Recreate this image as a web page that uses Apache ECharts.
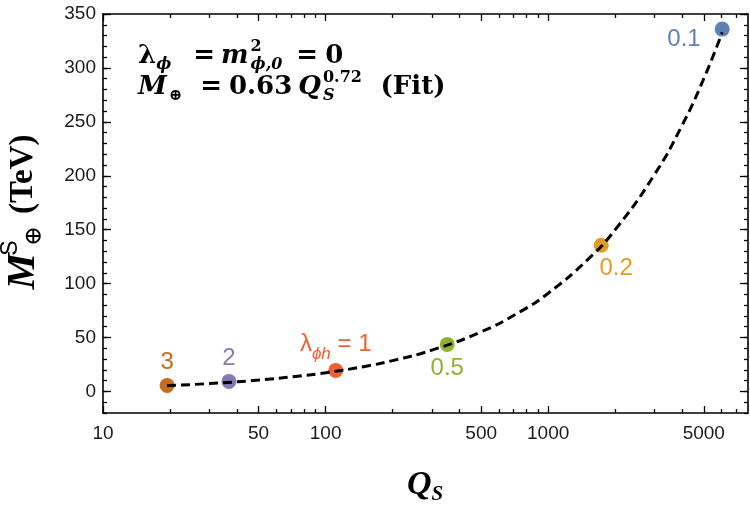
<!DOCTYPE html>
<html>
<head>
<meta charset="utf-8">
<script src="https://cdn.jsdelivr.net/npm/echarts@6/dist/echarts.min.js"></script>
<style>
  html, body { margin: 0; padding: 0; background: #fff; }
  #chart { width: 750px; height: 507px; }
</style>
</head>
<body>
<div id="chart"></div>
<script>
// coupling values lambda_phi_h and the points
var couplings = ['3', '2', '1', '0.5', '0.2', '0.1'];
var pointQ = [19.4, 36.8, 111, 352, 1730, 6050];
var pointM = [5.6, 9.3, 19.5, 43.6, 135.6, 336];

// dashed fit curve
var fitQ = [19.4, 30, 50, 75, 100, 150, 200, 300, 500, 750, 1000, 1500, 2000, 3000, 4000, 5000, 6050];
var fitM = [5.3, 7.3, 10.5, 14.1, 17.3, 23.2, 28.6, 38.3, 55.3, 74.0, 91.1, 122, 150, 201, 247, 290, 333];

// axis ticks
var xLabelValues = [10, 50, 100, 500, 1000, 5000];
var xMajorTicks = [10, 50, 100, 500, 1000, 5000];
var xMinorTicks = [20, 30, 40, 60, 70, 80, 90, 200, 300, 400, 600, 700, 800, 900, 2000, 3000, 4000, 6000, 7000];
var yLabelValues = [0, 50, 100, 150, 200, 250, 300, 350];

var colors = ['#C56E1A', '#8778B3', '#EB6235', '#8FB032', '#E19C24', '#5E81B5'];

var chart = echarts.init(document.getElementById('chart'));

var X_MIN = 10, X_MAX = 7900, Y_MIN = -20, Y_MAX = 350;
var lineStyle = { color: '#000', width: 1.6 };
var sans = 'Liberation Sans';
var serif = 'Liberation Serif';
var dserif = 'DejaVu Serif';

function xAxisDef(pos, ticks, len, showLabel, showLine) {
    return {
        type: 'log', position: pos, min: X_MIN, max: X_MAX, logBase: 10,
        axisLine: { show: showLine, onZero: false, lineStyle: lineStyle },
        axisTick: { show: true, inside: true, length: len, customValues: ticks, lineStyle: { color: '#000', width: 1.3 } },
        axisLabel: { show: showLabel, customValues: xLabelValues, color: '#1a1a1a', fontSize: 19, fontFamily: sans, margin: 11,
            formatter: function (v) { return String(Math.round(v)); } },
        splitLine: { show: false }, minorTick: { show: false }
    };
}
function yAxisDef(pos, showLabel, showLine) {
    return {
        type: 'value', position: pos, min: Y_MIN, max: Y_MAX, interval: 10,
        axisLine: { show: showLine, onZero: false, lineStyle: lineStyle },
        axisTick: { show: true, inside: true, length: 4, lineStyle: { color: '#000', width: 1.3 } },
        axisLabel: { show: showLabel, color: '#1a1a1a', fontSize: 19, fontFamily: sans, margin: 7,
            formatter: function (v) { return yLabelValues.indexOf(v) >= 0 ? String(v) : ''; } },
        splitLine: { show: false }
    };
}
function yMajorDef(pos) {
    return {
        type: 'value', position: pos, min: Y_MIN, max: Y_MAX,
        axisLine: { show: false },
        axisTick: { show: true, inside: true, length: 8, customValues: yLabelValues, lineStyle: { color: '#000', width: 1.3 } },
        axisLabel: { show: false },
        splitLine: { show: false }
    };
}

// one scatter series per coupling, so each gets its own colour and label spot
var labelPlace = [
    { position: 'top', distance: 4 },
    { position: 'top', distance: 4 },
    { position: 'top', distance: 4 },
    { position: 'bottom', distance: 4 },
    { position: 'bottom', distance: 4, offset: [15, 0] },
    { position: 'left', distance: 14, offset: [0, 10] }
];
var pointSeries = couplings.map(function (c, i) {
    var text = c === '1' ? '{l|λ}{s|ϕh}{l| = 1}' : c;
    return {
        type: 'scatter', name: c, z: 3,
        data: [[pointQ[i], pointM[i]]],
        symbolSize: 15,
        itemStyle: { color: colors[i], opacity: 1 },
        label: Object.assign({
            show: true, color: colors[i], fontSize: 24, fontFamily: sans,
            formatter: function () { return text; },
            rich: {
                l: { color: colors[i], fontSize: 24, fontFamily: sans, lineHeight: 30, verticalAlign: 'middle' },
                s: { color: colors[i], fontSize: 17, fontFamily: sans, fontStyle: 'italic', lineHeight: 30, verticalAlign: 'bottom', padding: [0, 0, -4, 0] }
            }
        }, labelPlace[i])
    };
});

// rich styles for the bold math note in the corner
function mathRich() {
    return {
        b: { fontFamily: dserif, fontWeight: 'bold', fontSize: 26, lineHeight: 34, verticalAlign: 'middle', fill: '#000' },
        bi: { fontFamily: dserif, fontWeight: 'bold', fontStyle: 'italic', fontSize: 26, lineHeight: 34, verticalAlign: 'middle', fill: '#000' },
        eq1: { fontFamily: dserif, fontWeight: 'bold', fontSize: 26, lineHeight: 34, verticalAlign: 'middle', fill: '#000', padding: [0, 6, 0, 22] },
        eq2: { fontFamily: dserif, fontWeight: 'bold', fontSize: 26, lineHeight: 34, verticalAlign: 'middle', fill: '#000', padding: [0, 7, 0, 14] },
        eq3: { fontFamily: dserif, fontWeight: 'bold', fontSize: 26, lineHeight: 34, verticalAlign: 'middle', fill: '#000', padding: [0, 7, 0, 18] },
        num: { fontFamily: dserif, fontWeight: 'bold', fontSize: 26, lineHeight: 34, verticalAlign: 'middle', fill: '#000', padding: [0, 6, 0, 0] },
        fit: { fontFamily: dserif, fontWeight: 'bold', fontSize: 26, lineHeight: 34, verticalAlign: 'middle', fill: '#000', padding: [0, 0, 0, 46] },
        sup0: { fontFamily: dserif, fontWeight: 'bold', fontSize: 16, lineHeight: 20, verticalAlign: 'top', width: 0, padding: [0, 0, 0, 2], fill: '#000' },
        sub: { fontFamily: dserif, fontWeight: 'bold', fontStyle: 'italic', fontSize: 16, lineHeight: 18, verticalAlign: 'bottom', fill: '#000' },
        subn: { fontFamily: dserif, fontWeight: 'bold', fontSize: 16, lineHeight: 18, verticalAlign: 'bottom', fill: '#000', padding: [0, 0, 0, 2] }
    };
}

var option = {
    animation: false,
    backgroundColor: '#fff',
    grid: { left: 103, right: 2, top: 14, bottom: 94, containLabel: false },
    xAxis: [
        xAxisDef('bottom', xMajorTicks, 7, true, true),
        xAxisDef('bottom', xMinorTicks, 4, false, false),
        xAxisDef('top', xMajorTicks, 7, false, true),
        xAxisDef('top', xMinorTicks, 4, false, false)
    ],
    yAxis: [
        yAxisDef('left', true, true),
        yMajorDef('left'),
        yAxisDef('right', false, true),
        yMajorDef('right')
    ],
    series: [{
        type: 'line', name: 'fit', z: 4,
        data: fitQ.map(function (q, i) { return [q, fitM[i]]; }),
        smooth: true, showSymbol: false,
        lineStyle: { color: '#000', width: 3, type: [9, 5] }
    }].concat(pointSeries),
    graphic: [
        {
            type: 'text', left: 138, top: 39,
            style: {
                text: '{b|λ}{sub|ϕ}{eq1|=}{bi|m}{sup0|2}{sub|ϕ,0}{eq2|=}{b|0}',
                rich: mathRich()
            }
        },
        {
            type: 'text', left: 138, top: 70,
            style: {
                text: '{bi|M}{subn|⊕}{eq3|=}{num|0.63}{bi|Q}{sup0|0.72}{sub|S}{fit|(Fit)}',
                rich: mathRich()
            }
        },
        {
            type: 'text', x: 23, y: 212, rotation: Math.PI / 2,
            style: {
                text: '{m|M}{sup0|S}{sub|⊕}{t|(TeV)}',
                align: 'center', verticalAlign: 'middle',
                rich: {
                    m: { fontFamily: serif, fontWeight: 'bold', fontStyle: 'italic', fontSize: 41, lineHeight: 48, verticalAlign: 'middle', fill: '#000' },
                    t: { fontFamily: serif, fontWeight: 'bold', fontSize: 33, lineHeight: 48, verticalAlign: 'middle', fill: '#000', padding: [0, 0, 0, 12] },
                    sup0: { fontFamily: sans, fontSize: 23, lineHeight: 26, verticalAlign: 'top', width: 0, padding: [0, 0, 0, 5], fill: '#000' },
                    sub: { fontFamily: dserif, fontSize: 24, lineHeight: 24, verticalAlign: 'bottom', fill: '#000', padding: [0, 0, 0, 2] }
                }
            }
        },
        {
            type: 'text', x: 425, y: 485,
            style: {
                text: '{q|Q}{s|S}',
                align: 'center', verticalAlign: 'middle',
                rich: {
                    q: { fontFamily: serif, fontWeight: 'bold', fontStyle: 'italic', fontSize: 34, lineHeight: 40, verticalAlign: 'middle', fill: '#000' },
                    s: { fontFamily: serif, fontWeight: 'bold', fontStyle: 'italic', fontSize: 21, lineHeight: 26, verticalAlign: 'bottom', fill: '#000' }
                }
            }
        }
    ]
};
chart.setOption(option);
</script>
</body>
</html>
